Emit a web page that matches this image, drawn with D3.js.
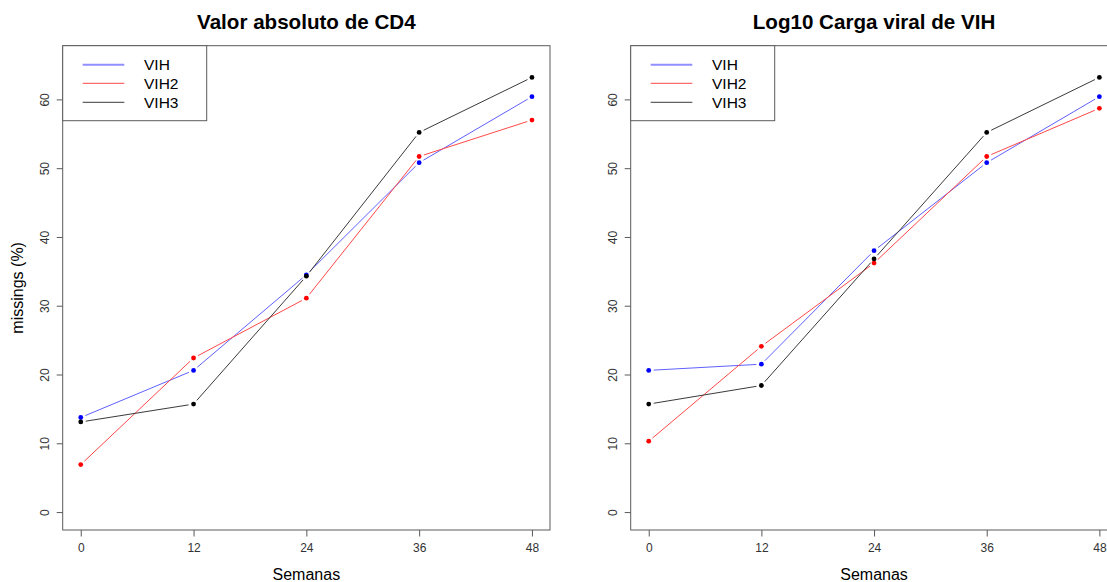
<!DOCTYPE html>
<html>
<head>
<meta charset="utf-8">
<script src="https://cdn.jsdelivr.net/npm/d3@7"></script>
<style>
  html, body { margin: 0; padding: 0; background: #fff; }
  svg { display: block; font-family: "Liberation Sans", Arial, sans-serif; }
</style>
</head>
<body>
<svg id="chart" width="1107" height="582"></svg>
<script>
// Weeks of follow-up and percentage of missing values per group
const weeks = [0, 12, 24, 36, 48];
const seriesNames = ["VIH", "VIH2", "VIH3"];
const seriesColors = ["#0000ff", "#ff0000", "#000000"];
const lineColors = ["#6060ff", "#ff4848", "#3a3a3a"];

const cd4VIH  = [13.75, 20.6, 34.5, 50.8, 60.4];
const cd4VIH2 = [6.9, 22.4, 31.1, 51.7, 57.0];
const cd4VIH3 = [13.1, 15.7, 34.3, 55.2, 63.2];

const cvVIH  = [20.6, 21.5, 38.0, 50.8, 60.4];
const cvVIH2 = [10.3, 24.1, 36.2, 51.7, 58.7];
const cvVIH3 = [15.7, 18.4, 36.8, 55.2, 63.2];

const yTicks = [0, 10, 20, 30, 40, 50, 60];
const xTicks = [0, 12, 24, 36, 48];
const yRange = [0, 65.2];

const panels = [
  { title: "Valor absoluto de CD4", series: [cd4VIH, cd4VIH2, cd4VIH3], left: 62.7, right: 550, ylab: "missings (%)" },
  { title: "Log10 Carga viral de VIH", series: [cvVIH, cvVIH2, cvVIH3], left: 630.7, right: 1117.4, ylab: null }
];

const svg = d3.select("#chart");
const plotTop = 45.7, plotBottom = 530;

// base-graphics style 4% padding around the data range
function padded(lo, hi) { const p = (hi - lo) * 0.04; return [lo - p, hi + p]; }

panels.forEach(panel => {
  const g = svg.append("g");
  const x = d3.scaleLinear().domain(padded(0, 48)).range([panel.left, panel.right]);
  const y = d3.scaleLinear().domain(padded(yRange[0], yRange[1])).range([plotBottom, plotTop]);

  // plot frame
  g.append("rect")
    .attr("x", panel.left).attr("y", plotTop)
    .attr("width", panel.right - panel.left).attr("height", plotBottom - plotTop)
    .attr("fill", "none").attr("stroke", "#5a5a5a").attr("stroke-width", 1);

  // x axis
  const xa = g.append("g").attr("transform", `translate(0,${plotBottom})`)
    .call(d3.axisBottom(x).tickValues(xTicks).tickSize(6.5).tickSizeOuter(0).tickPadding(7));
  xa.select(".domain").remove();
  xa.selectAll("line").attr("stroke", "#5a5a5a");
  xa.selectAll("text").attr("font-size", 12).attr("fill", "#333")
    .attr("font-family", "Liberation Sans, Arial, sans-serif");

  // y axis with rotated labels
  const ya = g.append("g").attr("transform", `translate(${panel.left},0)`)
    .call(d3.axisLeft(y).tickValues(yTicks).tickSize(6).tickSizeOuter(0));
  ya.select(".domain").remove();
  ya.selectAll("line").attr("stroke", "#5a5a5a");
  ya.selectAll("text").remove();
  ya.selectAll(".tick").append("text")
    .attr("transform", "translate(-17.7,0) rotate(-90)")
    .attr("text-anchor", "middle").attr("dy", "0.36em")
    .attr("font-size", 12).attr("fill", "#333")
    .attr("font-family", "Liberation Sans, Arial, sans-serif")
    .text(d => d);

  // title
  g.append("text")
    .attr("x", (panel.left + panel.right) / 2).attr("y", 29)
    .attr("text-anchor", "middle").attr("font-size", 20.6).attr("font-weight", "bold")
    .attr("fill", "#000").text(panel.title);

  // x label
  g.append("text")
    .attr("x", (panel.left + panel.right) / 2).attr("y", 580)
    .attr("text-anchor", "middle").attr("font-size", 16).attr("fill", "#000")
    .text("Semanas");

  if (panel.ylab) {
    g.append("text")
      .attr("transform", `translate(23,${(plotTop + plotBottom) / 2}) rotate(-90)`)
      .attr("text-anchor", "middle").attr("font-size", 16).attr("fill", "#000")
      .text(panel.ylab);
  }

  // lines with gaps around the points, then the points
  const gap = 5;
  panel.series.forEach((vals, si) => {
    const pts = vals.map((v, i) => [x(weeks[i]), y(v)]);
    const segs = d3.pairs(pts).map(([a, b]) => {
      const dx = b[0] - a[0], dy = b[1] - a[1];
      const len = Math.hypot(dx, dy);
      const ux = dx / len, uy = dy / len;
      return [a[0] + ux * gap, a[1] + uy * gap, b[0] - ux * gap, b[1] - uy * gap];
    });
    g.append("g").selectAll("line").data(segs).join("line")
      .attr("x1", d => d[0]).attr("y1", d => d[1])
      .attr("x2", d => d[2]).attr("y2", d => d[3])
      .attr("stroke", lineColors[si]).attr("stroke-width", 1);
    g.append("g").selectAll("circle").data(pts).join("circle")
      .attr("cx", d => d[0]).attr("cy", d => d[1]).attr("r", 2.4)
      .attr("fill", seriesColors[si]);
  });

  // legend
  const lx = panel.left, ly = plotTop, lw = 144, lh = 75;
  const leg = g.append("g");
  leg.append("rect").attr("x", lx).attr("y", ly).attr("width", lw).attr("height", lh)
    .attr("fill", "#fff").attr("stroke", "#5a5a5a").attr("stroke-width", 1);
  const rows = [19, 37.6, 56.6];
  seriesNames.forEach((name, i) => {
    leg.append("line")
      .attr("x1", lx + 20).attr("x2", lx + 61.6)
      .attr("y1", ly + rows[i]).attr("y2", ly + rows[i])
      .attr("stroke", lineColors[i]).attr("stroke-width", i === 0 ? 2 : 1)
      .attr("stroke-opacity", i === 0 ? 0.7 : 1);
    leg.append("text")
      .attr("x", lx + 81.3).attr("y", ly + rows[i]).attr("dy", "0.36em")
      .attr("font-size", 15.5).attr("fill", "#000").text(name);
  });
});
</script>
</body>
</html>
